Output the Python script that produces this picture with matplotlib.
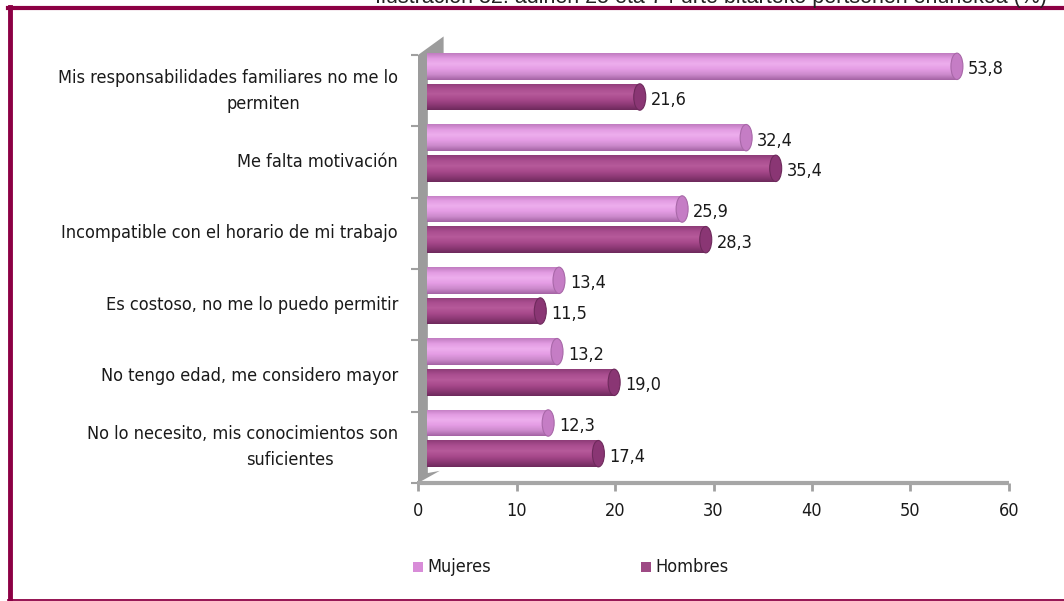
import numpy as np
import matplotlib
matplotlib.use("Agg")
import matplotlib.pyplot as plt
from matplotlib import transforms as mtransforms
from matplotlib.patches import Ellipse, Polygon, Rectangle
from matplotlib import font_manager as fm
from matplotlib.textpath import TextToPath

categories = [
    "Mis responsabilidades familiares no me lo\npermiten",
    "Me falta motivación",
    "Incompatible con el horario de mi trabajo",
    "Es costoso, no me lo puedo permitir",
    "No tengo edad, me considero mayor",
    "No lo necesito, mis conocimientos son\nsuficientes",
]
mujeres = [53.8, 32.4, 25.9, 13.4, 13.2, 12.3]
hombres = [21.6, 35.4, 28.3, 11.5, 19.0, 17.4]
series_names = ["Mujeres", "Hombres"]
xticks = [0, 10, 20, 30, 40, 50, 60]
title_text = "Ilustración 32: adinen 25 eta 74 urte bitarteko pertsonen ehunekoa (%)"

# ---- pick a narrow sans font if available ----
def find_font():
    files = [f.fname for f in fm.fontManager.ttflist]
    prefs = [
        lambda p: "LiberationSansNarrow-Regular" in p,
        lambda p: "ArialNarrow" in p.replace(" ", ""),
        lambda p: "NotoSans-Condensed." in p,
        lambda p: "NotoSans-Condensed" in p and "Bold" not in p and "Italic" not in p
                  and "Light" not in p and "Medium" not in p and "Thin" not in p
                  and "Black" not in p and "Semi" not in p and "Extra" not in p,
        lambda p: "DejaVuSansCondensed.ttf" in p,
    ]
    for test in prefs:
        for p in files:
            if test(p.split("/")[-1]):
                return fm.FontProperties(fname=p)
    return fm.FontProperties(family="Liberation Sans")

base_fp = find_font()
ttp = TextToPath()
def text_w(s, fprop, size):
    f = fprop.copy()
    f.set_size(size)
    w, h, d = ttp.get_text_width_height_descent(s, f, ismath=False)
    return w * 100 / 72.0

FS = 10 * 336 / text_w("Incompatible con el horario de mi trabajo", base_fp, 10)
FS = min(FS, 16.5)
fp = base_fp.copy()
fp.set_size(FS)

cap_fp = fm.FontProperties(family="Liberation Sans")
CAP_FS = 10 * 675 / text_w(title_text, cap_fp, 10)
cap_fp.set_size(CAP_FS)

W, H = 1064, 601
fig = plt.figure(figsize=(W / 100, H / 100), dpi=100)
fig.patch.set_facecolor("white")

x0, x1 = 418, 1009
y0, y1 = 55, 483
ax = fig.add_axes([x0 / W, 1 - y1 / H, (x1 - x0) / W, (y1 - y0) / H])
ax.set_xlim(0, 60)
ax.set_ylim(5.5, -0.5)
ax.set_facecolor("none")
for s in ax.spines.values():
    s.set_visible(False)

maroon = "#8C0044"
fig.add_artist(plt.Line2D([8 / W, 1], [1 - 8 / H, 1 - 8 / H], color=maroon, lw=3, transform=fig.transFigure))
fig.add_artist(plt.Line2D([9.5 / W, 9.5 / W], [1 - 7 / H, 0], color=maroon, lw=3.5, transform=fig.transFigure))
fig.add_artist(plt.Line2D([8 / W, 1], [1.2 / H, 1.2 / H], color=maroon, lw=1.3, transform=fig.transFigure))

# cropped caption at the very top (only its lower part is visible in the reference)
fig.text(375 / W, 1 - 2.5 / H, title_text, ha="left", va="baseline",
         fontproperties=cap_fp, color="#222222")

# back wall (3D look)
wall = Polygon([(0, -0.5), (2.6, -0.76), (2.6, -0.5), (1.0, -0.5), (1.0, 5.36),
                (2.2, 5.33), (0, 5.5)], closed=True,
               facecolor="#9C9C9C", edgecolor="none", zorder=1, clip_on=False)
ax.add_patch(wall)
ax.plot([-0.1, 60], [5.5, 5.5], color="#A6A6A6", lw=3, zorder=2, solid_capstyle="butt",
        clip_on=False)

ax.set_xticks(xticks)
ax.set_xticklabels([str(t) for t in xticks], fontproperties=fp, color="#1a1a1a")
ax.tick_params(axis="x", length=6, width=2, color="#A0A0A0", pad=8)
ax.set_yticks(np.arange(-0.5, 6.0, 1.0))
ax.set_yticklabels([])
ax.tick_params(axis="y", length=5, width=1.5, color="#A0A0A0")

off = mtransforms.ScaledTranslation(9 / 100, 9 / 100, fig.dpi_scale_trans)
tr = ax.transData + off
ypos = np.arange(len(categories))
bh = 0.37
dy = 0.215

def grad(colors):
    c = np.array([matplotlib.colors.to_rgb(x) for x in colors])
    t = np.linspace(0, 1, len(colors))
    tt = np.linspace(0, 1, 64)
    arr = np.stack([np.interp(tt, t, c[:, k]) for k in range(3)], axis=-1)
    return arr[:, None, :]

mcol = dict(face="#E49CE4", grad=["#C07CC0", "#E29CE2", "#EDAEED", "#E49CE4", "#CC8ACC", "#A463A4"],
            cap="#C57DC5", capedge="#A868A8")
hcol = dict(face="#A84A8C", grad=["#8E3C78", "#AA4E90", "#B65A9A", "#A84A8C", "#8E3A76", "#6E2A5C"],
            cap="#8A3674", capedge="#6E2A5C")

px_per_unit = (x1 - x0) / 60.0
cap_w = 12 / px_per_unit

for vals, sign, col in [(mujeres, -1, mcol), (hombres, 1, hcol)]:
    bars = ax.barh(ypos + sign * dy, vals, height=bh, color=col["face"], transform=tr,
                   zorder=3, clip_on=False)
    for b, v in zip(bars, vals):
        y_c = b.get_y() + b.get_height() / 2
        im = ax.imshow(grad(col["grad"]), extent=(0, v, y_c + bh / 2, y_c - bh / 2),
                       aspect="auto", transform=tr, zorder=3.5, interpolation="bilinear")
        im.set_clip_path(b)
        e = Ellipse((v, y_c), cap_w, bh, facecolor=col["cap"], edgecolor=col["capedge"],
                    lw=0.8, transform=tr, zorder=4, clip_on=False)
        ax.add_patch(e)
        lab = f"{v:.1f}".replace(".", ",")
        ax.text(v + cap_w / 2 + 5 / px_per_unit, y_c + 0.04, lab, transform=tr,
                ha="left", va="center", fontproperties=fp, color="#1a1a1a", zorder=5)

ax.set_xlim(0, 60)
ax.set_ylim(5.5, -0.5)

for i, lab in enumerate(categories):
    lines = lab.split("\n")
    if len(lines) == 1:
        ax.text(-20 / px_per_unit, i, lines[0], ha="right", va="center", fontproperties=fp, color="#1a1a1a")
    else:
        ax.text(-20 / px_per_unit, i - 0.18, lines[0], ha="right", va="center", fontproperties=fp, color="#1a1a1a")
        cx = 263 if i == 0 else 290
        ax.text((cx - x0) / px_per_unit, i + 0.18, lines[1], ha="center", va="center",
                fontproperties=fp, color="#1a1a1a")

leg_y = 1 - 567 / H
for name, xm, c in [(series_names[0], 413, "#D88CD8"), (series_names[1], 641, "#9E4A85")]:
    fig.add_artist(Rectangle((xm / W, leg_y - 5 / H), 10 / W, 10 / H, facecolor=c,
                             edgecolor="none", transform=fig.transFigure))
    fig.text((xm + 14) / W, leg_y, name, ha="left", va="center", fontproperties=fp, color="#1a1a1a")

fig.savefig("out.png", dpi=100)
